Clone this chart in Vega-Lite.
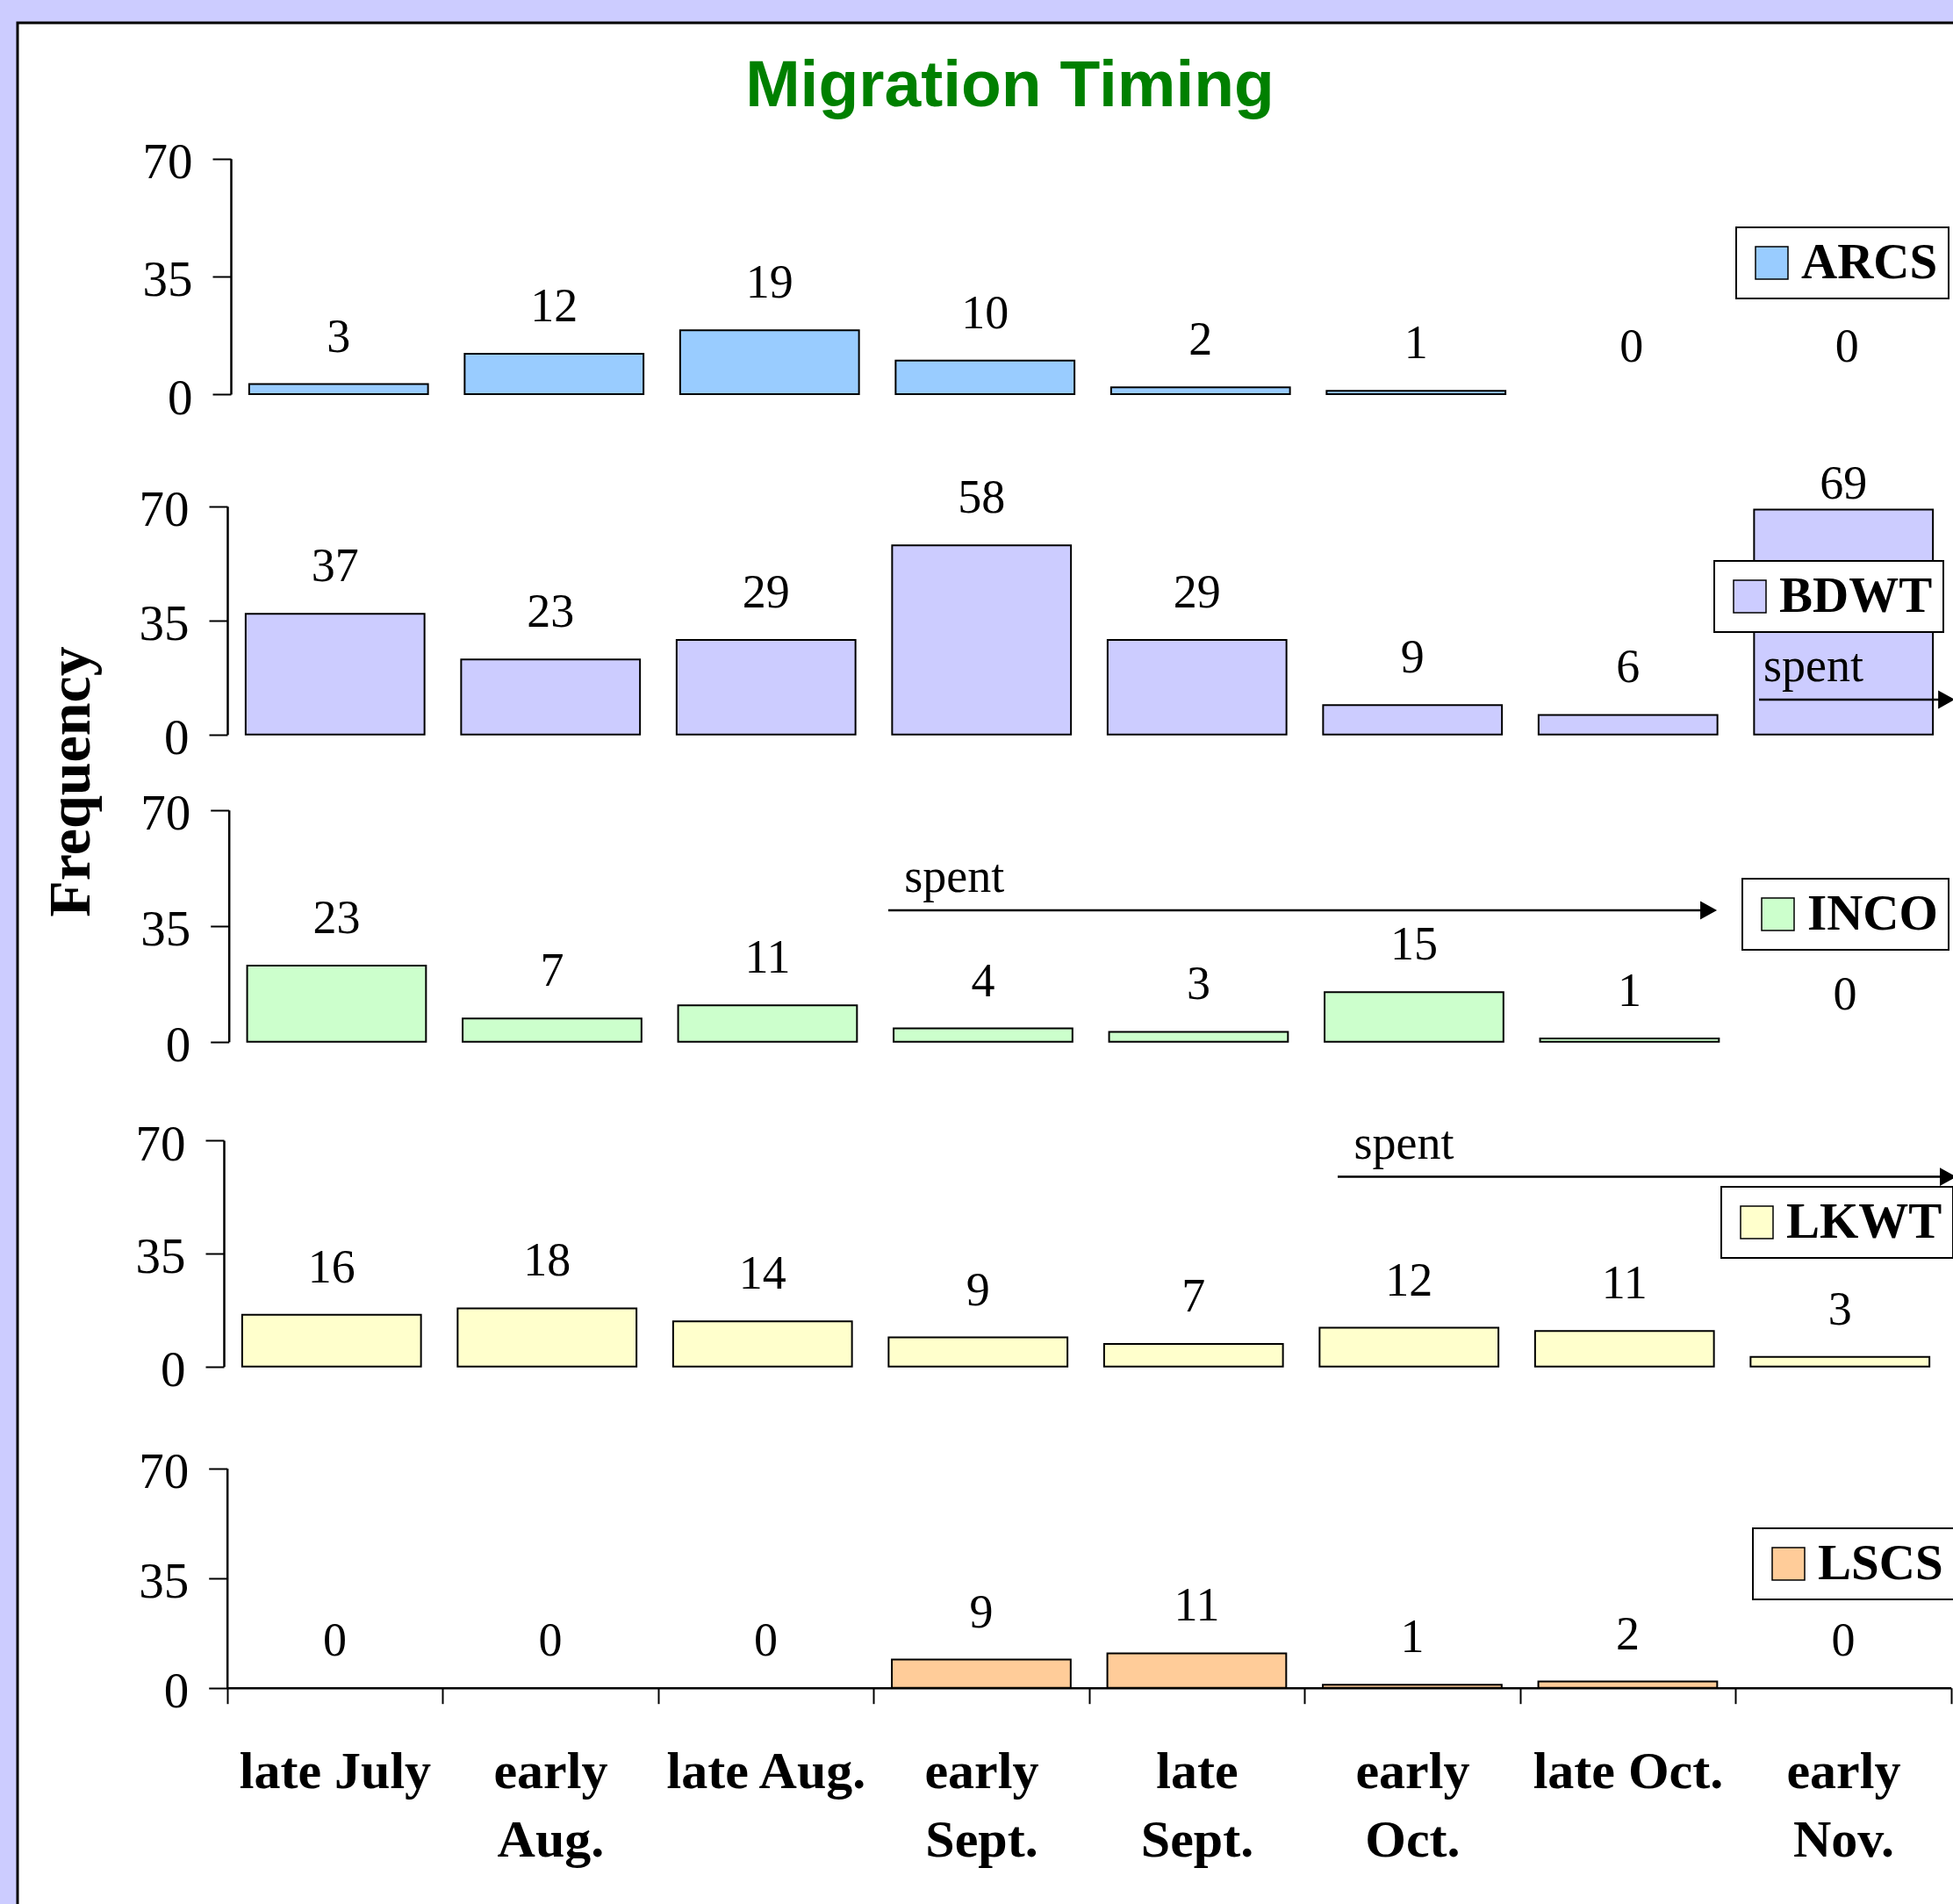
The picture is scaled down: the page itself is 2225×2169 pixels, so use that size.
{
  "$schema": "https://vega.github.io/schema/vega-lite/v6.json",
  "width": 2205,
  "height": 2143,
  "autosize": {"type": "none"},
  "padding": {"left": 20, "top": 26, "right": 0, "bottom": 0},
  "background": "#CCCCFF",
  "title": {
    "text": "Migration Timing",
    "font": "Liberation Sans",
    "fontSize": 75,
    "fontWeight": "bold",
    "color": "#008000",
    "anchor": "middle",
    "frame": "group",
    "baseline": "alphabetic",
    "offset": -170,
    "dx": 28
  },
  "datasets": {
    "counts": [
      {"species": "ARCS", "period": "late July", "count": 3},
      {"species": "ARCS", "period": "early Aug.", "count": 12},
      {"species": "ARCS", "period": "late Aug.", "count": 19},
      {"species": "ARCS", "period": "early Sept.", "count": 10},
      {"species": "ARCS", "period": "late Sept.", "count": 2},
      {"species": "ARCS", "period": "early Oct.", "count": 1},
      {"species": "ARCS", "period": "late Oct.", "count": 0},
      {"species": "ARCS", "period": "early Nov.", "count": 0},
      {"species": "BDWT", "period": "late July", "count": 37},
      {"species": "BDWT", "period": "early Aug.", "count": 23},
      {"species": "BDWT", "period": "late Aug.", "count": 29},
      {"species": "BDWT", "period": "early Sept.", "count": 58},
      {"species": "BDWT", "period": "late Sept.", "count": 29},
      {"species": "BDWT", "period": "early Oct.", "count": 9},
      {"species": "BDWT", "period": "late Oct.", "count": 6},
      {"species": "BDWT", "period": "early Nov.", "count": 69},
      {"species": "INCO", "period": "late July", "count": 23},
      {"species": "INCO", "period": "early Aug.", "count": 7},
      {"species": "INCO", "period": "late Aug.", "count": 11},
      {"species": "INCO", "period": "early Sept.", "count": 4},
      {"species": "INCO", "period": "late Sept.", "count": 3},
      {"species": "INCO", "period": "early Oct.", "count": 15},
      {"species": "INCO", "period": "late Oct.", "count": 1},
      {"species": "INCO", "period": "early Nov.", "count": 0},
      {"species": "LKWT", "period": "late July", "count": 16},
      {"species": "LKWT", "period": "early Aug.", "count": 18},
      {"species": "LKWT", "period": "late Aug.", "count": 14},
      {"species": "LKWT", "period": "early Sept.", "count": 9},
      {"species": "LKWT", "period": "late Sept.", "count": 7},
      {"species": "LKWT", "period": "early Oct.", "count": 12},
      {"species": "LKWT", "period": "late Oct.", "count": 11},
      {"species": "LKWT", "period": "early Nov.", "count": 3},
      {"species": "LSCS", "period": "late July", "count": 0},
      {"species": "LSCS", "period": "early Aug.", "count": 0},
      {"species": "LSCS", "period": "late Aug.", "count": 0},
      {"species": "LSCS", "period": "early Sept.", "count": 9},
      {"species": "LSCS", "period": "late Sept.", "count": 11},
      {"species": "LSCS", "period": "early Oct.", "count": 1},
      {"species": "LSCS", "period": "late Oct.", "count": 2},
      {"species": "LSCS", "period": "early Nov.", "count": 0}
    ],
    "spent": [
      {"species": "BDWT", "from": "early Nov.", "to": "early Nov.", "level": 10.7, "label": "spent"},
      {"species": "INCO", "from": "early Sept.", "to": "late Oct.", "level": 39.7, "label": "spent"},
      {"species": "LKWT", "from": "early Oct.", "to": "early Nov.", "level": 58.7, "label": "spent"}
    ]
  },
  "layer": [
    {
      "data": {"name": "counts"},
      "transform": [{"filter": "datum.species === 'ARCS' && datum.count > 0"}],
      "mark": {"type": "bar", "stroke": "black", "strokeWidth": 2, "width": {"band": 0.83}},
      "encoding": {
        "x": {"field": "period", "type": "nominal", "axis": null,
          "scale": {"type": "band", "domain": ["late July", "early Aug.", "late Aug.", "early Sept.", "late Sept.", "early Oct.", "late Oct.", "early Nov."], "range": [243, 2207], "paddingInner": 0, "paddingOuter": 0}},
        "y": {"field": "count", "type": "quantitative",
          "scale": {"domain": [0, 70], "range": [423, 154.7], "nice": false},
          "axis": {"orient": "left", "values": [0, 35, 70], "offset": -243, "title": null}},
        "color": {"field": "species", "type": "nominal", "scale": {"range": ["#99CCFF"]},
          "legend": {"title": null, "orient": "none", "legendX": 1958, "legendY": 233}}
      }
    },
    {
      "data": {"name": "counts"},
      "transform": [{"filter": "datum.species === 'ARCS'"}],
      "mark": {"type": "text", "font": "Liberation Serif", "fontSize": 54, "baseline": "alphabetic", "dy": -37, "color": "black"},
      "encoding": {
        "x": {"field": "period", "type": "nominal", "axis": null,
          "scale": {"type": "band", "domain": ["late July", "early Aug.", "late Aug.", "early Sept.", "late Sept.", "early Oct.", "late Oct.", "early Nov."], "range": [243, 2207], "paddingInner": 0, "paddingOuter": 0}},
        "y": {"field": "count", "type": "quantitative", "axis": null,
          "scale": {"domain": [0, 70], "range": [423, 154.7], "nice": false}},
        "text": {"field": "count", "type": "quantitative"}
      }
    },
    {
      "data": {"name": "counts"},
      "transform": [{"filter": "datum.species === 'BDWT' && datum.count > 0"}],
      "mark": {"type": "bar", "stroke": "black", "strokeWidth": 2, "width": {"band": 0.83}},
      "encoding": {
        "x": {"field": "period", "type": "nominal", "axis": null,
          "scale": {"type": "band", "domain": ["late July", "early Aug.", "late Aug.", "early Sept.", "late Sept.", "early Oct.", "late Oct.", "early Nov."], "range": [239, 2203], "paddingInner": 0, "paddingOuter": 0}},
        "y": {"field": "count", "type": "quantitative",
          "scale": {"domain": [0, 70], "range": [810.7, 550.7], "nice": false},
          "axis": {"orient": "left", "values": [0, 35, 70], "offset": -239, "title": null}},
        "color": {"field": "species", "type": "nominal", "scale": {"range": ["#CCCCFF"]},
          "legend": {"title": null, "orient": "none", "legendX": 1933, "legendY": 613}}
      }
    },
    {
      "data": {"name": "counts"},
      "transform": [{"filter": "datum.species === 'BDWT' && datum.count < 60"}],
      "mark": {"type": "text", "font": "Liberation Serif", "fontSize": 54, "baseline": "alphabetic", "dy": -37, "color": "black"},
      "encoding": {
        "x": {"field": "period", "type": "nominal", "axis": null,
          "scale": {"type": "band", "domain": ["late July", "early Aug.", "late Aug.", "early Sept.", "late Sept.", "early Oct.", "late Oct.", "early Nov."], "range": [239, 2203], "paddingInner": 0, "paddingOuter": 0}},
        "y": {"field": "count", "type": "quantitative", "axis": null,
          "scale": {"domain": [0, 70], "range": [810.7, 550.7], "nice": false}},
        "text": {"field": "count", "type": "quantitative"}
      }
    },
    {
      "data": {"name": "counts"},
      "transform": [{"filter": "datum.species === 'BDWT' && datum.count >= 60"}],
      "mark": {"type": "text", "font": "Liberation Serif", "fontSize": 54, "baseline": "alphabetic", "dy": -12, "color": "black"},
      "encoding": {
        "x": {"field": "period", "type": "nominal", "axis": null,
          "scale": {"type": "band", "domain": ["late July", "early Aug.", "late Aug.", "early Sept.", "late Sept.", "early Oct.", "late Oct.", "early Nov."], "range": [239, 2203], "paddingInner": 0, "paddingOuter": 0}},
        "y": {"field": "count", "type": "quantitative", "axis": null,
          "scale": {"domain": [0, 70], "range": [810.7, 550.7], "nice": false}},
        "text": {"field": "count", "type": "quantitative"}
      }
    },
    {
      "data": {"name": "spent"},
      "transform": [{"filter": "datum.species === 'BDWT'"}],
      "mark": {"type": "rule", "color": "black", "strokeWidth": 2.5},
      "encoding": {
        "x": {"field": "from", "type": "nominal", "bandPosition": 0.108, "axis": null,
          "scale": {"type": "band", "domain": ["late July", "early Aug.", "late Aug.", "early Sept.", "late Sept.", "early Oct.", "late Oct.", "early Nov."], "range": [239, 2203], "paddingInner": 0, "paddingOuter": 0}},
        "x2": {"field": "to", "bandPosition": 0.978},
        "y": {"field": "level", "type": "quantitative", "axis": null,
          "scale": {"domain": [0, 70], "range": [810.7, 550.7], "nice": false}}
      }
    },
    {
      "data": {"name": "spent"},
      "transform": [{"filter": "datum.species === 'BDWT'"}],
      "mark": {"type": "point", "shape": "M-1,-1.1L1,0L-1,1.1Z", "filled": true, "color": "black", "size": 361, "opacity": 1},
      "encoding": {
        "x": {"field": "to", "type": "nominal", "bandPosition": 0.978, "axis": null,
          "scale": {"type": "band", "domain": ["late July", "early Aug.", "late Aug.", "early Sept.", "late Sept.", "early Oct.", "late Oct.", "early Nov."], "range": [239, 2203], "paddingInner": 0, "paddingOuter": 0}},
        "y": {"field": "level", "type": "quantitative", "axis": null,
          "scale": {"domain": [0, 70], "range": [810.7, 550.7], "nice": false}}
      }
    },
    {
      "data": {"name": "spent"},
      "transform": [{"filter": "datum.species === 'BDWT'"}],
      "mark": {"type": "text", "align": "left", "baseline": "alphabetic", "dy": -21, "font": "Liberation Serif", "fontSize": 54, "color": "black"},
      "encoding": {
        "x": {"field": "from", "type": "nominal", "bandPosition": 0.128, "axis": null,
          "scale": {"type": "band", "domain": ["late July", "early Aug.", "late Aug.", "early Sept.", "late Sept.", "early Oct.", "late Oct.", "early Nov."], "range": [239, 2203], "paddingInner": 0, "paddingOuter": 0}},
        "y": {"field": "level", "type": "quantitative", "axis": null,
          "scale": {"domain": [0, 70], "range": [810.7, 550.7], "nice": false}},
        "text": {"field": "label", "type": "nominal"}
      }
    },
    {
      "data": {"name": "counts"},
      "transform": [{"filter": "datum.species === 'INCO' && datum.count > 0"}],
      "mark": {"type": "bar", "stroke": "black", "strokeWidth": 2, "width": {"band": 0.83}},
      "encoding": {
        "x": {"field": "period", "type": "nominal", "axis": null,
          "scale": {"type": "band", "domain": ["late July", "early Aug.", "late Aug.", "early Sept.", "late Sept.", "early Oct.", "late Oct.", "early Nov."], "range": [240.7, 2204.7], "paddingInner": 0, "paddingOuter": 0}},
        "y": {"field": "count", "type": "quantitative",
          "scale": {"domain": [0, 70], "range": [1160.7, 896.7], "nice": false},
          "axis": {"orient": "left", "values": [0, 35, 70], "offset": -240.7, "title": "Frequency",
            "titleX": -179.7, "titleY": 864, "titleAngle": -90, "titleAlign": "center", "titleBaseline": "middle",
            "titleFont": "Liberation Serif", "titleFontSize": 68, "titleFontWeight": "bold", "titleColor": "black"}},
        "color": {"field": "species", "type": "nominal", "scale": {"range": ["#CCFFCC"]},
          "legend": {"title": null, "orient": "none", "legendX": 1965, "legendY": 975}}
      }
    },
    {
      "data": {"name": "counts"},
      "transform": [{"filter": "datum.species === 'INCO'"}],
      "mark": {"type": "text", "font": "Liberation Serif", "fontSize": 54, "baseline": "alphabetic", "dy": -37, "color": "black"},
      "encoding": {
        "x": {"field": "period", "type": "nominal", "axis": null,
          "scale": {"type": "band", "domain": ["late July", "early Aug.", "late Aug.", "early Sept.", "late Sept.", "early Oct.", "late Oct.", "early Nov."], "range": [240.7, 2204.7], "paddingInner": 0, "paddingOuter": 0}},
        "y": {"field": "count", "type": "quantitative", "axis": null,
          "scale": {"domain": [0, 70], "range": [1160.7, 896.7], "nice": false}},
        "text": {"field": "count", "type": "quantitative"}
      }
    },
    {
      "data": {"name": "spent"},
      "transform": [{"filter": "datum.species === 'INCO'"}],
      "mark": {"type": "rule", "color": "black", "strokeWidth": 2.5},
      "encoding": {
        "x": {"field": "from", "type": "nominal", "bandPosition": 0.06, "axis": null,
          "scale": {"type": "band", "domain": ["late July", "early Aug.", "late Aug.", "early Sept.", "late Sept.", "early Oct.", "late Oct.", "early Nov."], "range": [240.7, 2204.7], "paddingInner": 0, "paddingOuter": 0}},
        "x2": {"field": "to", "bandPosition": 0.867},
        "y": {"field": "level", "type": "quantitative", "axis": null,
          "scale": {"domain": [0, 70], "range": [1160.7, 896.7], "nice": false}}
      }
    },
    {
      "data": {"name": "spent"},
      "transform": [{"filter": "datum.species === 'INCO'"}],
      "mark": {"type": "point", "shape": "M-1,-1.1L1,0L-1,1.1Z", "filled": true, "color": "black", "size": 361, "opacity": 1},
      "encoding": {
        "x": {"field": "to", "type": "nominal", "bandPosition": 0.867, "axis": null,
          "scale": {"type": "band", "domain": ["late July", "early Aug.", "late Aug.", "early Sept.", "late Sept.", "early Oct.", "late Oct.", "early Nov."], "range": [240.7, 2204.7], "paddingInner": 0, "paddingOuter": 0}},
        "y": {"field": "level", "type": "quantitative", "axis": null,
          "scale": {"domain": [0, 70], "range": [1160.7, 896.7], "nice": false}}
      }
    },
    {
      "data": {"name": "spent"},
      "transform": [{"filter": "datum.species === 'INCO'"}],
      "mark": {"type": "text", "align": "left", "baseline": "alphabetic", "dy": -21, "font": "Liberation Serif", "fontSize": 54, "color": "black"},
      "encoding": {
        "x": {"field": "from", "type": "nominal", "bandPosition": 0.135, "axis": null,
          "scale": {"type": "band", "domain": ["late July", "early Aug.", "late Aug.", "early Sept.", "late Sept.", "early Oct.", "late Oct.", "early Nov."], "range": [240.7, 2204.7], "paddingInner": 0, "paddingOuter": 0}},
        "y": {"field": "level", "type": "quantitative", "axis": null,
          "scale": {"domain": [0, 70], "range": [1160.7, 896.7], "nice": false}},
        "text": {"field": "label", "type": "nominal"}
      }
    },
    {
      "data": {"name": "counts"},
      "transform": [{"filter": "datum.species === 'LKWT' && datum.count > 0"}],
      "mark": {"type": "bar", "stroke": "black", "strokeWidth": 2, "width": {"band": 0.83}},
      "encoding": {
        "x": {"field": "period", "type": "nominal", "axis": null,
          "scale": {"type": "band", "domain": ["late July", "early Aug.", "late Aug.", "early Sept.", "late Sept.", "early Oct.", "late Oct.", "early Nov."], "range": [235, 2199], "paddingInner": 0, "paddingOuter": 0}},
        "y": {"field": "count", "type": "quantitative",
          "scale": {"domain": [0, 70], "range": [1530.7, 1273], "nice": false},
          "axis": {"orient": "left", "values": [0, 35, 70], "offset": -235, "title": null}},
        "color": {"field": "species", "type": "nominal", "scale": {"range": ["#FFFFCC"]},
          "legend": {"title": null, "orient": "none", "legendX": 1941, "legendY": 1326}}
      }
    },
    {
      "data": {"name": "counts"},
      "transform": [{"filter": "datum.species === 'LKWT'"}],
      "mark": {"type": "text", "font": "Liberation Serif", "fontSize": 54, "baseline": "alphabetic", "dy": -37, "color": "black"},
      "encoding": {
        "x": {"field": "period", "type": "nominal", "axis": null,
          "scale": {"type": "band", "domain": ["late July", "early Aug.", "late Aug.", "early Sept.", "late Sept.", "early Oct.", "late Oct.", "early Nov."], "range": [235, 2199], "paddingInner": 0, "paddingOuter": 0}},
        "y": {"field": "count", "type": "quantitative", "axis": null,
          "scale": {"domain": [0, 70], "range": [1530.7, 1273], "nice": false}},
        "text": {"field": "count", "type": "quantitative"}
      }
    },
    {
      "data": {"name": "spent"},
      "transform": [{"filter": "datum.species === 'LKWT'"}],
      "mark": {"type": "rule", "color": "black", "strokeWidth": 2.5},
      "encoding": {
        "x": {"field": "from", "type": "nominal", "bandPosition": 0.169, "axis": null,
          "scale": {"type": "band", "domain": ["late July", "early Aug.", "late Aug.", "early Sept.", "late Sept.", "early Oct.", "late Oct.", "early Nov."], "range": [235, 2199], "paddingInner": 0, "paddingOuter": 0}},
        "x2": {"field": "to", "bandPosition": 1.002},
        "y": {"field": "level", "type": "quantitative", "axis": null,
          "scale": {"domain": [0, 70], "range": [1530.7, 1273], "nice": false}}
      }
    },
    {
      "data": {"name": "spent"},
      "transform": [{"filter": "datum.species === 'LKWT'"}],
      "mark": {"type": "point", "shape": "M-1,-1.1L1,0L-1,1.1Z", "filled": true, "color": "black", "size": 361, "opacity": 1},
      "encoding": {
        "x": {"field": "to", "type": "nominal", "bandPosition": 1.002, "axis": null,
          "scale": {"type": "band", "domain": ["late July", "early Aug.", "late Aug.", "early Sept.", "late Sept.", "early Oct.", "late Oct.", "early Nov."], "range": [235, 2199], "paddingInner": 0, "paddingOuter": 0}},
        "y": {"field": "level", "type": "quantitative", "axis": null,
          "scale": {"domain": [0, 70], "range": [1530.7, 1273], "nice": false}}
      }
    },
    {
      "data": {"name": "spent"},
      "transform": [{"filter": "datum.species === 'LKWT'"}],
      "mark": {"type": "text", "align": "left", "baseline": "alphabetic", "dy": -21, "font": "Liberation Serif", "fontSize": 54, "color": "black"},
      "encoding": {
        "x": {"field": "from", "type": "nominal", "bandPosition": 0.244, "axis": null,
          "scale": {"type": "band", "domain": ["late July", "early Aug.", "late Aug.", "early Sept.", "late Sept.", "early Oct.", "late Oct.", "early Nov."], "range": [235, 2199], "paddingInner": 0, "paddingOuter": 0}},
        "y": {"field": "level", "type": "quantitative", "axis": null,
          "scale": {"domain": [0, 70], "range": [1530.7, 1273], "nice": false}},
        "text": {"field": "label", "type": "nominal"}
      }
    },
    {
      "data": {"name": "counts"},
      "transform": [{"filter": "datum.species === 'LSCS' && datum.count > 0"}],
      "mark": {"type": "bar", "stroke": "black", "strokeWidth": 2, "width": {"band": 0.83}},
      "encoding": {
        "x": {"field": "period", "type": "nominal",
          "scale": {"type": "band", "domain": ["late July", "early Aug.", "late Aug.", "early Sept.", "late Sept.", "early Oct.", "late Oct.", "early Nov."], "range": [238.7, 2202.7], "paddingInner": 0, "paddingOuter": 0},
          "axis": {"title": null, "orient": "bottom", "offset": -246.3,
            "labelExpr": "indexof(['late July','late Aug.','late Oct.'], datum.value) >= 0 ? datum.label : split(datum.label, ' ')"}},
        "y": {"field": "count", "type": "quantitative",
          "scale": {"domain": [0, 70], "range": [1896.7, 1646.7], "nice": false},
          "axis": {"orient": "left", "values": [0, 35, 70], "offset": -238.7, "title": null}},
        "color": {"field": "species", "type": "nominal", "scale": {"range": ["#FFCC99"]},
          "legend": {"title": null, "orient": "none", "legendX": 1977, "legendY": 1715}}
      }
    },
    {
      "data": {"name": "counts"},
      "transform": [{"filter": "datum.species === 'LSCS'"}],
      "mark": {"type": "text", "font": "Liberation Serif", "fontSize": 54, "baseline": "alphabetic", "dy": -37, "color": "black"},
      "encoding": {
        "x": {"field": "period", "type": "nominal", "axis": null,
          "scale": {"type": "band", "domain": ["late July", "early Aug.", "late Aug.", "early Sept.", "late Sept.", "early Oct.", "late Oct.", "early Nov."], "range": [238.7, 2202.7], "paddingInner": 0, "paddingOuter": 0}},
        "y": {"field": "count", "type": "quantitative", "axis": null,
          "scale": {"domain": [0, 70], "range": [1896.7, 1646.7], "nice": false}},
        "text": {"field": "count", "type": "quantitative"}
      }
    }
  ],
  "resolve": {
    "scale": {"x": "independent", "y": "independent", "color": "independent"},
    "axis": {"x": "independent", "y": "independent"},
    "legend": {"color": "independent"}
  },
  "config": {
    "view": {"fill": "white", "stroke": "black", "strokeWidth": 3, "strokeDash": [2205, 4348, 2143, 10]},
    "axis": {
      "grid": false,
      "domainColor": "black",
      "tickColor": "black",
      "labelColor": "black",
      "labelFlush": false,
      "labelOverlap": false,
      "labelBound": false,
      "domainWidth": 2.5,
      "tickWidth": 2,
      "zindex": 1
    },
    "axisY": {
      "tickSize": 21,
      "labelFont": "Liberation Serif",
      "labelFontSize": 57,
      "labelPadding": 23,
      "labelOffset": 5
    },
    "axisX": {
      "tickBand": "extent",
      "tickSize": 18,
      "labelAngle": 0,
      "labelFont": "Liberation Serif",
      "labelFontSize": 60,
      "labelFontWeight": "bold",
      "labelBaseline": "top",
      "labelPadding": 49,
      "labelLineHeight": 78,
      "labelLimit": 0
    },
    "legend": {
      "symbolType": "square",
      "symbolSize": 1369,
      "symbolStrokeColor": "black",
      "symbolStrokeWidth": 1.5,
      "labelFont": "Liberation Serif",
      "labelFontSize": 57,
      "labelFontWeight": "bold",
      "labelColor": "black",
      "labelOffset": 5,
      "labelLimit": 400,
      "padding": 12,
      "strokeColor": "black",
      "strokeWidth": 2,
      "fillColor": "white"
    }
  }
}
